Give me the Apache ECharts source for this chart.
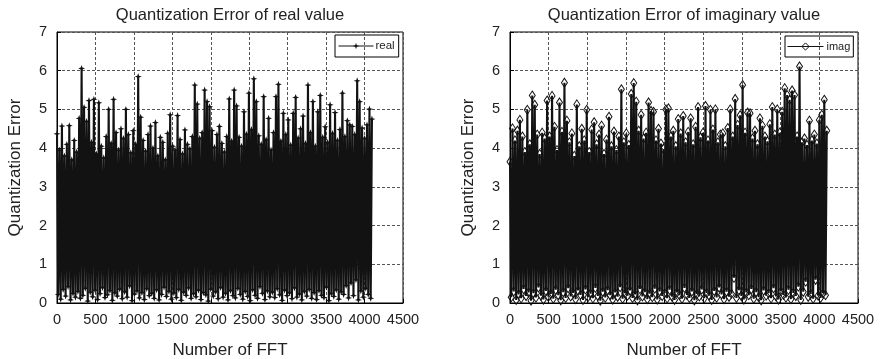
<!DOCTYPE html>
<html><head><meta charset="utf-8">
<script src="https://cdn.jsdelivr.net/npm/echarts@6/dist/echarts.min.js"></script>
<style>html,body{margin:0;padding:0;background:#fff}#c{width:880px;height:359px}</style>
</head><body><div id="c"></div>
<script>
const chartTitles = ['Quantization Error of real value', 'Quantization Error of imaginary value'];
const seriesNames = ['real', 'imag'];
const xAxisName = 'Number of FFT';
const yAxisName = 'Quantization Error';
const xRange = [0, 4500, 500];
const yRange = [0, 7, 1];
const sampleStep = 16; // FFT bins between plotted samples

const realErr = [
  4.37,0.22,3.95,0.10,4.57,0.35,3.80,0.18,4.10,0.42,4.58,0.08,3.70,0.25,4.20,0.15,
  3.90,0.30,4.77,0.12,6.06,0.20,5.05,0.38,4.69,0.05,5.23,0.28,4.15,0.16,5.26,0.33,
  3.85,0.09,5.17,0.24,4.05,0.40,3.75,0.14,4.30,0.21,5.00,0.32,4.12,0.07,5.26,0.26,
  4.40,0.18,3.95,0.36,4.50,0.11,4.25,0.29,5.00,0.15,4.35,0.44,3.88,0.06,4.45,0.23,
  4.10,0.31,5.85,0.13,4.80,0.27,4.20,0.09,3.92,0.37,4.35,0.19,4.57,0.25,4.00,0.12,
  4.66,0.34,3.80,0.08,4.28,0.22,4.15,0.41,3.70,0.17,4.38,0.30,4.86,0.10,4.05,0.26,
  3.95,0.14,4.84,0.35,4.22,0.07,3.85,0.28,4.47,0.20,4.10,0.39,3.98,0.12,4.30,0.24,
  5.63,0.16,5.14,0.33,4.25,0.09,4.40,0.27,5.50,0.21,5.20,0.05,5.07,0.36,4.45,0.18,
  4.02,0.29,4.35,0.11,4.56,0.40,4.12,0.15,3.90,0.25,4.30,0.08,5.27,0.32,4.18,0.19,
  5.50,0.13,5.09,0.38,4.28,0.22,4.05,0.10,4.94,0.30,4.36,0.17,5.42,0.06,4.48,0.34,
  5.79,0.20,5.20,0.12,4.32,0.42,4.10,0.25,5.33,0.09,4.22,0.31,4.77,0.16,3.95,0.28,
  4.40,0.14,5.33,0.37,5.65,0.21,4.18,0.07,4.90,0.33,4.35,0.19,4.73,0.26,4.08,0.11,
  4.90,0.39,5.31,0.15,4.26,0.23,4.50,0.08,4.83,0.30,4.12,0.18,5.63,0.35,4.40,0.12,
  5.20,0.27,4.05,0.09,4.94,0.32,5.36,0.20,4.28,0.14,4.55,0.41,4.15,0.06,5.12,0.24,
  4.38,0.17,4.92,0.34,4.20,0.10,4.48,0.29,5.42,0.22,4.30,0.45,4.71,0.13,4.60,0.52,
  4.56,0.19,4.35,0.60,5.74,0.08,5.20,0.31,4.52,0.15,4.25,0.38,4.60,0.22,5.01,0.12,
  4.75
];

const imagErr = [
  3.65,0.15,4.51,0.30,4.20,0.08,4.45,0.22,4.73,0.12,4.30,0.36,3.90,0.18,4.99,0.27,
  4.10,0.06,5.36,0.25,5.12,0.14,4.35,0.40,3.85,0.19,4.40,0.09,4.25,0.31,5.23,0.16,
  4.30,0.23,5.35,0.11,4.55,0.34,3.95,0.20,5.18,0.07,4.42,0.28,5.69,0.13,4.71,0.38,
  4.15,0.17,4.38,0.26,3.80,0.10,5.13,0.32,4.05,0.21,4.50,0.08,4.20,0.35,4.99,0.15,
  3.90,0.24,4.48,0.12,4.67,0.39,4.10,0.18,4.35,0.06,4.58,0.29,3.85,0.14,4.22,0.33,
  4.81,0.20,4.05,0.09,4.43,0.27,3.95,0.16,4.30,0.41,5.52,0.11,4.15,0.25,4.38,0.19,
  4.08,0.32,5.40,0.13,5.68,0.22,5.20,0.07,4.45,0.36,4.86,0.17,4.25,0.28,4.40,0.10,
  5.18,0.24,4.96,0.15,4.94,0.37,4.20,0.09,4.50,0.30,4.12,0.18,3.98,0.25,5.00,0.12,
  5.03,0.34,4.30,0.16,4.45,0.08,4.05,0.27,4.75,0.20,4.38,0.11,4.83,0.39,4.15,0.21,
  4.42,0.13,4.77,0.30,4.10,0.07,4.55,0.23,5.06,0.17,4.28,0.35,4.40,0.12,5.09,0.26,
  4.20,0.19,4.99,0.08,4.48,0.31,5.00,0.14,4.15,0.40,4.35,0.22,4.38,0.10,4.05,0.29,
  4.52,0.16,5.00,0.24,4.30,0.65,5.27,0.13,4.60,0.33,4.85,0.18,5.63,0.09,4.40,0.27,
  4.92,0.20,4.90,0.36,4.25,0.11,4.45,0.28,4.10,0.15,4.77,0.07,4.58,0.32,4.30,0.19,
  4.18,0.25,4.62,0.12,5.06,0.38,4.35,0.17,5.00,0.09,4.40,0.30,4.94,0.21,5.55,0.14,
  5.37,0.34,5.25,0.10,5.49,0.26,5.37,0.18,4.30,0.42,6.11,0.08,4.15,0.29,4.25,0.55,
  4.08,0.16,4.71,0.23,4.20,0.11,4.35,0.60,4.12,0.19,4.73,0.13,4.86,0.25,5.25,0.20,
  4.45
];

const FONT = '"Liberation Sans", Arial, Helvetica, sans-serif';
const toPairs = arr => arr.map((v, i) => [i * sampleStep, v]);

const grids = [
  { left: 57, top: 32, width: 346, height: 271 },
  { left: 510, top: 32, width: 348, height: 271 }
];

const chart = echarts.init(document.getElementById('c'), null, { renderer: 'canvas' });

function xAxisFor(i) {
  return {
    gridIndex: i, type: 'value', min: xRange[0], max: xRange[1], interval: xRange[2],
    name: xAxisName, nameLocation: 'middle', nameGap: 39,
    nameTextStyle: { fontFamily: FONT, fontSize: 17, color: '#222' },
    axisLine: { show: true, lineStyle: { color: '#000', width: 1 } },
    axisTick: { show: true, inside: true, length: 4, lineStyle: { color: '#000' } },
    axisLabel: { fontFamily: FONT, fontSize: 14.5, color: '#222', margin: 9, formatter: v => String(v) },
    splitLine: { show: true, lineStyle: { color: '#555', type: [3, 2], width: 1 } }
  };
}
function yAxisFor(i) {
  return {
    gridIndex: i, type: 'value', min: yRange[0], max: yRange[1], interval: yRange[2],
    name: yAxisName, nameLocation: 'middle', nameGap: 33,
    nameTextStyle: { fontFamily: FONT, fontSize: 17, color: '#222' },
    axisLine: { show: true, lineStyle: { color: '#000', width: 1 } },
    axisTick: { show: true, inside: true, length: 4, lineStyle: { color: '#000' } },
    axisLabel: { fontFamily: FONT, fontSize: 14.5, color: '#222', margin: 10, formatter: v => String(v) },
    splitLine: { show: true, lineStyle: { color: '#555', type: [3, 2], width: 1 } }
  };
}

const starPath = 'path://M0,-10 L2.5,-2.5 L10,0 L2.5,2.5 L0,10 L-2.5,2.5 L-10,0 L-2.5,-2.5 Z';

const option = {
  animation: false,
  backgroundColor: '#fff',
  grid: grids.map(g => Object.assign({ show: true, borderColor: '#000', borderWidth: 1, backgroundColor: 'transparent', containLabel: false, outerBoundsMode: 'none' }, g)),
  xAxis: [xAxisFor(0), xAxisFor(1)],
  yAxis: [yAxisFor(0), yAxisFor(1)],
  graphic: chartTitles.map((t, i) => ({
    type: 'text', x: grids[i].left + grids[i].width / 2, y: 15,
    style: { text: t, fontFamily: FONT, fontSize: 16.5, fill: '#222', textAlign: 'center', textVerticalAlign: 'middle' }
  })),
  legend: [
    { data: [{ name: seriesNames[0], itemStyle: { color: '#111' }, lineStyle: { width: 1 } }], left: 335, top: 35, orient: 'vertical', padding: [5, 4, 5, 3],
      borderColor: '#000', borderWidth: 1, itemWidth: 35, itemHeight: 8, itemGap: 2,
      textStyle: { fontFamily: FONT, fontSize: 11.5, color: '#222', padding: [0, 0, 0, -3] } },
    { data: [{ name: seriesNames[1], lineStyle: { width: 1 }, itemStyle: { borderWidth: 1 } }], left: 785, top: 36, orient: 'vertical', padding: [5, 3, 5, 2],
      borderColor: '#000', borderWidth: 1, itemWidth: 36, itemHeight: 9, itemGap: 2,
      textStyle: { fontFamily: FONT, fontSize: 11, color: '#222', padding: [0, 0, 0, -2] } }
  ],
  series: [
    { name: seriesNames[0], type: 'line', xAxisIndex: 0, yAxisIndex: 0, data: toPairs(realErr),
      symbol: starPath, symbolSize: [7, 7], showSymbol: true,
      lineStyle: { color: '#121212', width: 2.1 }, itemStyle: { color: '#121212' }, z: 3 },
    { name: seriesNames[1], type: 'line', xAxisIndex: 1, yAxisIndex: 1, data: toPairs(imagErr),
      symbol: 'diamond', symbolSize: [6, 9], showSymbol: true,
      lineStyle: { color: '#121212', width: 2.1 }, itemStyle: { color: 'rgba(255,255,255,0)', borderColor: '#121212', borderWidth: 1 }, z: 3 }
  ]
};
chart.setOption(option);
</script>
</body></html>
